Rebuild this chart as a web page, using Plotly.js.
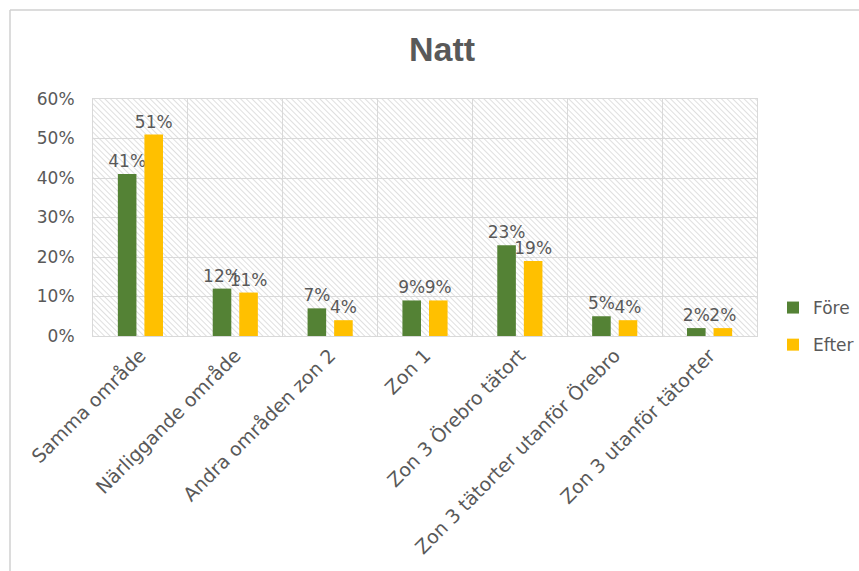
<!DOCTYPE html>
<html>
<head>
<meta charset="utf-8">
<script src="https://cdn.plot.ly/plotly-3.0.1.min.js"></script>
<style>
html,body{margin:0;padding:0;background:#fff;}
#chart{width:859px;height:571px;}
</style>
</head>
<body>
<div id="chart"></div>
<script>
const categories = ["Samma område","Närliggande område","Andra områden zon 2","Zon 1","Zon 3 Örebro tätort","Zon 3 tätorter utanför Örebro","Zon 3 utanför tätorter"];
const fore = [0.41,0.12,0.07,0.09,0.23,0.05,0.02];
const efter = [0.51,0.11,0.04,0.09,0.19,0.04,0.02];
const seriesNames = ["Före","Efter"];
const yTicks = [0,0.1,0.2,0.3,0.4,0.5,0.6];

const txt = "#595959";
const fontFam = "DejaVu Sans, sans-serif";

const L = 93, R = 757, T = 99, B = 336, W = 859, H = 571;
const pw = R - L, ph = B - T;

const svg = `<svg xmlns="http://www.w3.org/2000/svg" width="${pw}" height="${ph}"><defs><pattern id="p" width="4" height="4" patternUnits="userSpaceOnUse" patternTransform="rotate(-45)"><line x1="0" y1="0" x2="0" y2="4" stroke="#cdcdcd" stroke-width="1.3"/></pattern></defs><rect width="${pw}" height="${ph}" fill="url(#p)"/></svg>`;
const uri = "data:image/svg+xml;charset=utf-8," + encodeURIComponent(svg);

const common = {
  type: "bar",
  x: categories,
  texttemplate: "%{y:.0%}",
  textposition: "outside",
  cliponaxis: false,
  constraintext: "none",
  textfont: {family: fontFam, size: 17, color: txt},
  hoverinfo: "skip"
};

const data = [
  Object.assign({}, common, {y: fore, name: seriesNames[0], marker: {color: "#548235"}, legendgroup: "a"}),
  Object.assign({}, common, {y: efter, name: seriesNames[1], marker: {color: "#FFC000"}, legendgroup: "b"})
];

const px2x = p => (p - L) / pw;
const px2y = p => (B - p) / ph;

const layout = {
  width: W, height: H,
  margin: {l: L, r: W - R, t: T, b: H - B, pad: 0, autoexpand: false},
  paper_bgcolor: "#fff",
  plot_bgcolor: "#fff",
  font: {family: fontFam, size: 17, color: txt},
  title: {
    text: "<b>Natt</b>",
    font: {family: "Liberation Sans, Arial, sans-serif", size: 34, color: txt},
    xref: "container", yref: "container",
    x: 442 / W, xanchor: "center",
    y: 1 - 49 / H, yanchor: "middle"
  },
  barmode: "group",
  bargap: 0.44,
  bargroupgap: 0.3,
  xaxis: {
    type: "category",
    range: [-0.5, 6.5],
    tickson: "boundaries",
    ticks: "",
    showgrid: true,
    gridcolor: "#d9d9d9",
    gridwidth: 1,
    showline: true, mirror: true, linecolor: "#d9d9d9", linewidth: 1,
    tickangle: -45,
    tickfont: {family: fontFam, size: 19, color: txt},
    automargin: false
  },
  yaxis: {
    range: [0, 0.6],
    tickvals: yTicks,
    tickformat: ".0%",
    showgrid: true,
    gridcolor: "#d9d9d9",
    gridwidth: 1,
    zeroline: false,
    showline: true, mirror: true, linecolor: "#d9d9d9", linewidth: 1,
    ticks: "",
    ticklabelstandoff: 14,
    tickfont: {family: fontFam, size: 17, color: txt},
    automargin: false
  },
  legend: {
    x: px2x(773), xanchor: "left",
    y: px2y(290), yanchor: "top",
    traceorder: "grouped",
    tracegroupgap: 12,
    font: {family: fontFam, size: 17, color: txt},
    bgcolor: "rgba(0,0,0,0)",
    itemwidth: 30
  },
  images: [{
    source: uri, xref: "paper", yref: "paper",
    x: 0, y: 1, sizex: 1, sizey: 1,
    xanchor: "left", yanchor: "top",
    sizing: "stretch", layer: "below"
  }],
  shapes: [
    {type: "line", xref: "paper", yref: "paper", x0: px2x(10), x1: px2x(859), y0: px2y(10), y1: px2y(10), line: {color: "#d0d0d0", width: 1.5}},
    {type: "line", xref: "paper", yref: "paper", x0: px2x(10), x1: px2x(10), y0: px2y(10), y1: px2y(571), line: {color: "#d0d0d0", width: 1.5}}
  ],
  showlegend: true
};

Plotly.newPlot("chart", data, layout, {displayModeBar: false, staticPlot: true});
</script>
</body>
</html>
